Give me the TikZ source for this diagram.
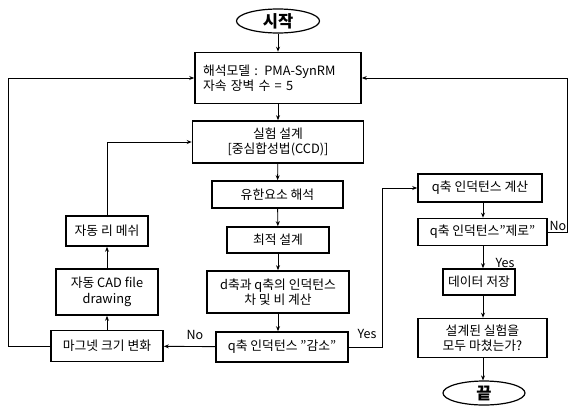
\documentclass[tikz,border=0pt]{standalone}
\usepackage{fontspec}
\setmainfont{Noto Sans CJK KR}
\usetikzlibrary{arrows.meta,shapes.geometric}
\begin{document}
\begin{tikzpicture}[x=1pt,y=-1pt,
  box/.style={draw,line width=1.6pt,rectangle,inner sep=0pt,font=\fontsize{12.8}{15.5}\selectfont,align=center},
  term/.style={draw,line width=1.2pt,ellipse,inner sep=0pt,font=\fontsize{16.5}{18}\selectfont\bfseries},
  conn/.style={line width=0.9pt,-{Stealth[length=5pt,width=4pt]}},
  lbl/.style={font=\fontsize{12.5}{14}\selectfont,inner sep=0pt}]
\useasboundingbox (0,0) rectangle (569,407);
% nodes
\node[term,minimum width=83pt,minimum height=24pt] (start) at (278,21) {시작};
\node[box,minimum width=166pt,minimum height=51pt,align=left,text width=150pt] (m1) at (278,78) {해석모델 : PMA-SynRM\\자속 장벽 수 = 5};
\node[box,minimum width=171pt,minimum height=42pt] (m2) at (278,142) {실험 설계\\{}[중심합성법(CCD)]};
\node[box,minimum width=131pt,minimum height=27pt] (m3) at (277.5,194.5) {유한요소 해석};
\node[box,minimum width=102pt,minimum height=26pt] (m4) at (278,240) {최적 설계};
\node[box,minimum width=142pt,minimum height=42pt] (m5) at (278,292) {d축과 q축의 인덕턴스\\차 및 비 계산};
\node[box,minimum width=132pt,minimum height=30pt] (m6) at (282,347) {q축 인덕턴스 "감소"};
\node[box,minimum width=112pt,minimum height=31pt] (mag) at (107,346) {마그넷 크기 변화};
\node[box,minimum width=102pt,minimum height=46pt] (cad) at (107,292) {자동 CAD file\\drawing};
\node[box,minimum width=82pt,minimum height=30pt] (mesh) at (107,231) {자동 리 메쉬};
\node[box,minimum width=124pt,minimum height=28pt] (r1) at (480,188) {q축 인덕턴스 계산};
\node[box,minimum width=129pt,minimum height=27pt] (r2) at (482.5,232) {q축 인덕턴스"제로"};
\node[box,minimum width=72pt,minimum height=26pt] (r3) at (479,282) {데이터 저장};
\node[box,minimum width=129pt,minimum height=39pt] (r4) at (482.5,338) {설계된 실험을\\모두 마쳤는가?};
\node[term,minimum width=82pt,minimum height=24pt] (end) at (484,393) {끝};
% helper coordinates
\coordinate (lx) at (8,0);
\coordinate (rx) at (567.5,0);
\coordinate (yx) at (382,0);
\coordinate (cx) at (483,0);
% connectors
\draw[conn] (start) -- (m1);
\draw[conn] (m1) -- (m2);
\draw[conn] (m2) -- (m3);
\draw[conn] (m3) -- (m4);
\draw[conn] (m4) -- (m5);
\draw[conn] (m5.south) -- (m5.south |- m6.north);
\draw[conn] (m6) -- (mag);
\draw[conn] (mag) -- (cad);
\draw[conn] (cad) -- (mesh);
\draw[conn] (mesh.north) |- (m2.west);
\draw[conn] (mag.west) -| (lx |- m1.west) -- (m1.west);
\draw[conn] (m6.east) -| (yx |- r1.west) -- (r1.west);
\draw[conn] (r2.east) -| (rx |- m1.east) -- (m1.east);
\draw[conn] (cx |- r1.south) -- (cx |- r2.north);
\draw[conn] (cx |- r2.south) -- (cx |- r3.north);
\draw[conn] (cx |- r3.south) -- (cx |- r4.north);
\draw[conn] (cx |- r4.south) -- (cx |- end.north);
% labels
\node[lbl] (noL) at (195,335) {No};
\node[lbl] (yesL) at (367,334) {Yes};
\node[lbl] (noR) at (558,226) {No};
\node[lbl] (yesR) at (505,263) {Yes};
\end{tikzpicture}
\end{document}
